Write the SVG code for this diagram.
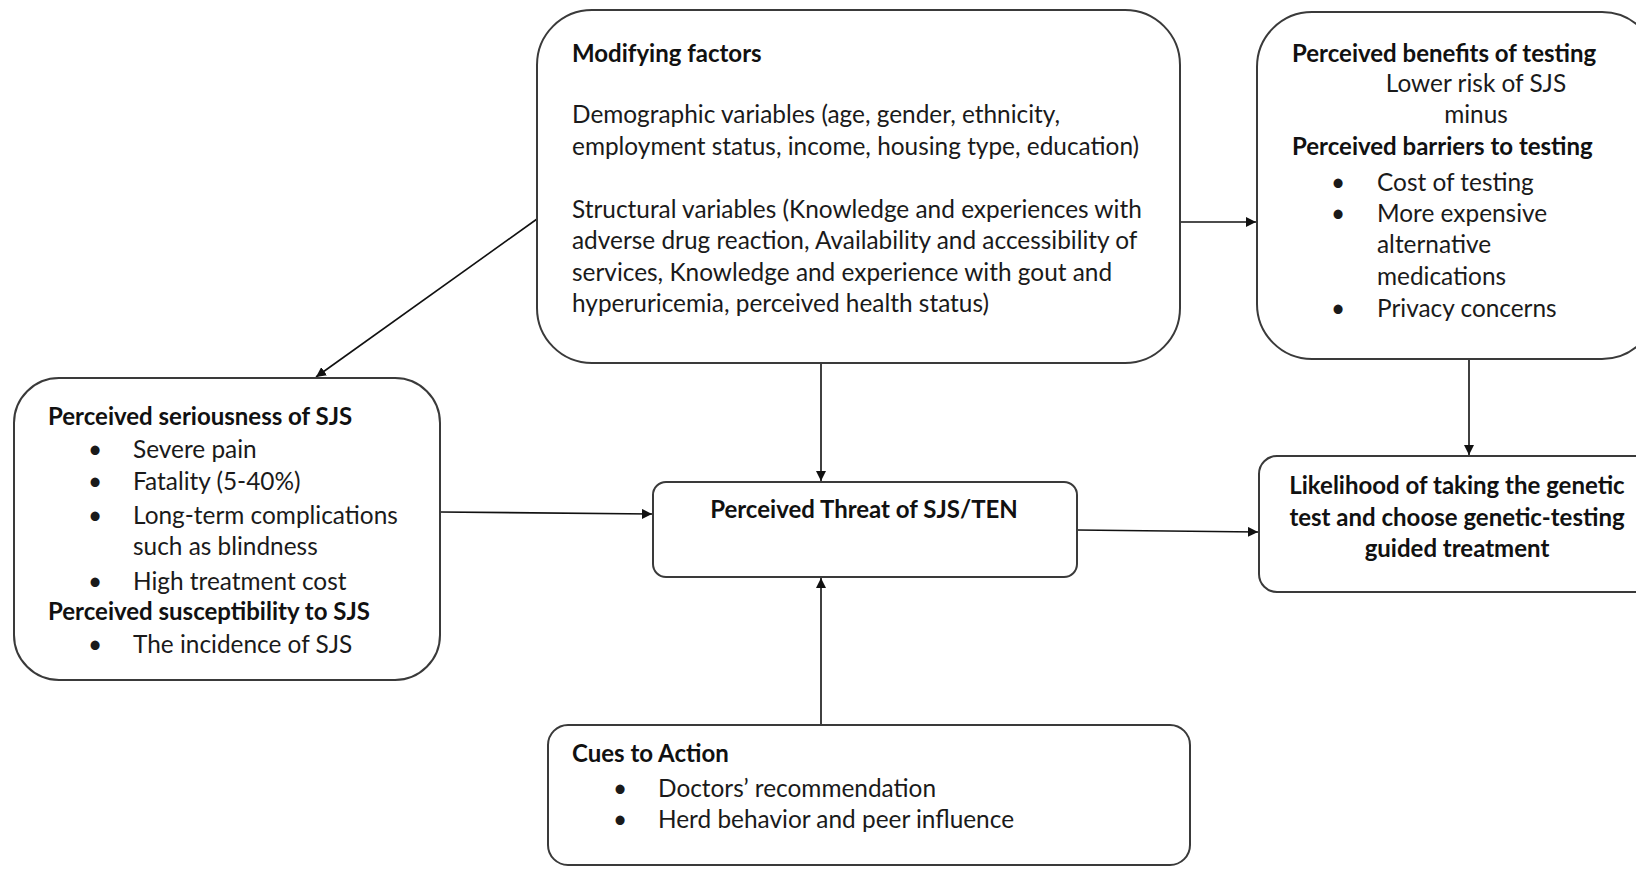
<svg xmlns="http://www.w3.org/2000/svg" width="1636" height="869" viewBox="0 0 1636 869">
<style>
.box{fill:#fff;stroke:#3a3a3a;stroke-width:2}
.t{font-family:Lato,"Liberation Sans",sans-serif;font-size:24.4px;fill:#1a1a1a}
.b{font-family:Lato,"Liberation Sans",sans-serif;font-size:24px;font-weight:bold;fill:#111}
.m{text-anchor:middle}
.c{stroke:#111;stroke-width:1.6;fill:none;marker-end:url(#ah)}
</style>
<defs>
<marker id="ah" viewBox="0 0 10 10" refX="10" refY="5" markerWidth="10" markerHeight="10" markerUnits="userSpaceOnUse" orient="auto">
<path d="M0,0 L10,5 L0,10 z" fill="#111"/>
</marker>
</defs>
<rect width="1636" height="869" fill="#fff"/>
<g id="connectors">
<line class="c" x1="537" y1="219" x2="316" y2="377"/>
<line class="c" x1="821" y1="363" x2="821" y2="481"/>
<line class="c" x1="1180" y1="222" x2="1256" y2="222"/>
<line class="c" x1="1469" y1="359" x2="1469" y2="455"/>
<line class="c" x1="440" y1="512" x2="652" y2="514"/>
<line class="c" x1="1077" y1="530" x2="1258" y2="532"/>
<line class="c" x1="821" y1="725" x2="821" y2="578"/>
</g>
<g id="modifying">
<rect class="box" x="537" y="10" width="643" height="353" rx="55" ry="55"/>
<text class="b" x="572" y="62">Modifying factors</text>
<text class="t" x="572" y="123">Demographic variables (age, gender, ethnicity,</text>
<text class="t" x="572" y="155">employment status, income, housing type, education)</text>
<text class="t" x="572" y="218">Structural variables (Knowledge and experiences with</text>
<text class="t" x="572" y="249">adverse drug reaction, Availability and accessibility of</text>
<text class="t" x="572" y="281">services, Knowledge and experience with gout and</text>
<text class="t" x="572" y="312">hyperuricemia, perceived health status)</text>
</g>
<g id="benefits">
<rect class="box" x="1257" y="12" width="400" height="347" rx="55" ry="55"/>
<text class="b" x="1292" y="62">Perceived benefits of testing</text>
<text class="t m" x="1476" y="92">Lower risk of SJS</text>
<text class="t m" x="1476" y="123">minus</text>
<text class="b" x="1292" y="155">Perceived barriers to testing</text>
<text class="t m" x="1338" y="191">•</text>
<text class="t" x="1377" y="191">Cost of testing</text>
<text class="t m" x="1338" y="222">•</text>
<text class="t" x="1377" y="222">More expensive</text>
<text class="t" x="1377" y="253">alternative</text>
<text class="t" x="1377" y="285">medications</text>
<text class="t m" x="1338" y="317">•</text>
<text class="t" x="1377" y="317">Privacy concerns</text>
</g>
<g id="seriousness">
<rect class="box" x="14" y="378" width="426" height="302" rx="45" ry="45"/>
<text class="b" x="48" y="425">Perceived seriousness of SJS</text>
<text class="t m" x="95" y="458">•</text>
<text class="t" x="133" y="458">Severe pain</text>
<text class="t m" x="95" y="490">•</text>
<text class="t" x="133" y="490">Fatality (5-40%)</text>
<text class="t m" x="95" y="524">•</text>
<text class="t" x="133" y="524">Long-term complications</text>
<text class="t" x="133" y="555">such as blindness</text>
<text class="t m" x="95" y="590">•</text>
<text class="t" x="133" y="590">High treatment cost</text>
<text class="b" x="48" y="620">Perceived susceptibility to SJS</text>
<text class="t m" x="95" y="653">•</text>
<text class="t" x="133" y="653">The incidence of SJS</text>
</g>
<g id="threat">
<rect class="box" x="653" y="482" width="424" height="95" rx="13" ry="13"/>
<text class="b m" x="864" y="518">Perceived Threat of SJS/TEN</text>
</g>
<g id="likelihood">
<rect class="box" x="1259" y="456" width="400" height="136" rx="18" ry="18"/>
<text class="b m" x="1457" y="494">Likelihood of taking the genetic</text>
<text class="b m" x="1457" y="526">test and choose genetic-testing</text>
<text class="b m" x="1457" y="557">guided treatment</text>
</g>
<g id="cues">
<rect class="box" x="548" y="725" width="642" height="140" rx="20" ry="20"/>
<text class="b" x="572" y="762">Cues to Action</text>
<text class="t m" x="620" y="797">•</text>
<text class="t" x="658" y="797">Doctors’ recommendation</text>
<text class="t m" x="620" y="828">•</text>
<text class="t" x="658" y="828">Herd behavior and peer influence</text>
</g>
</svg>
